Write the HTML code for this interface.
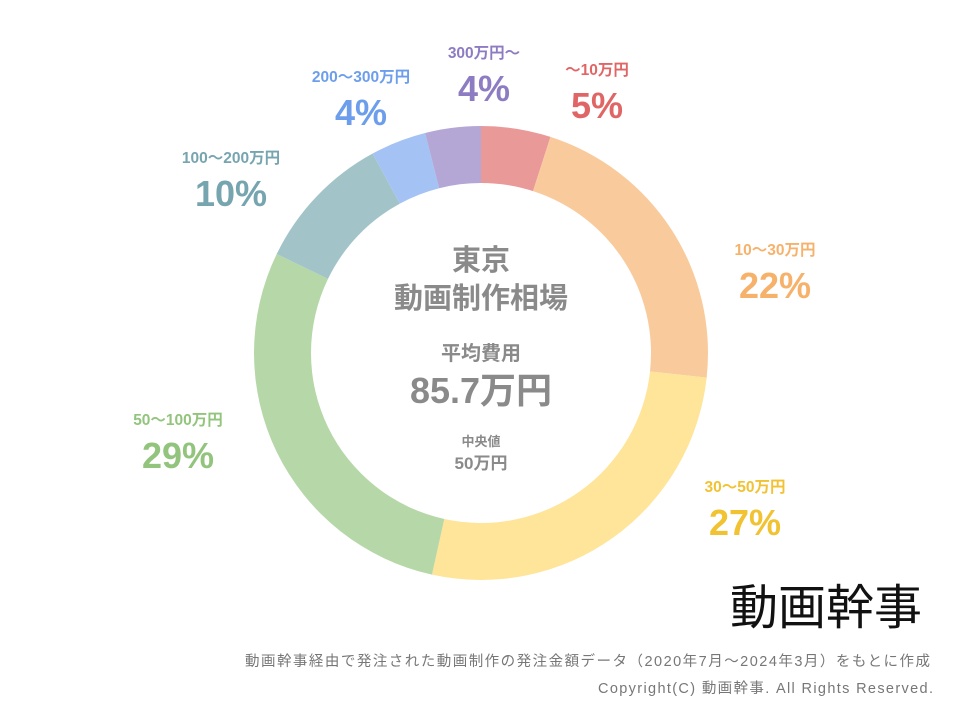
<!DOCTYPE html>
<html><head><meta charset="utf-8">
<style>
body{margin:0;background:#fff;width:960px;height:720px;overflow:hidden;font-family:"Liberation Sans","Noto Sans CJK JP",sans-serif}
svg text{font-family:"Liberation Sans","Noto Sans CJK JP",sans-serif;font-weight:bold}
</style></head><body>
<svg id="chart" width="960" height="720" viewBox="0 0 960 720" xmlns="http://www.w3.org/2000/svg">
<g id="slices"></g>
<g id="labels"></g>
<g fill="#8a8a8a" text-anchor="middle">
<text x="481" y="270" font-size="29">東京</text>
<text x="481" y="308" font-size="29">動画制作相場</text>
<text x="481" y="360" font-size="20">平均費用</text>
<text x="481" y="403" font-size="36">85.7万円</text>
<text x="481" y="446" font-size="13">中央値</text>
<text x="481" y="469" font-size="17">50万円</text>
</g>
<text x="826" y="624" font-size="48" text-anchor="middle" fill="#111" style="font-weight:normal">動画幹事</text>
<text x="245" y="666" font-size="14.5" textLength="685" fill="#777" style="font-weight:normal">動画幹事経由で発注された動画制作の発注金額データ（2020年7月～2024年3月）をもとに作成</text>
<text x="598" y="693" font-size="14.5" textLength="335" fill="#777" style="font-weight:normal">Copyright(C) 動画幹事. All Rights Reserved.</text>
</svg>
<script>
const categories=["～10万円","10～30万円","30～50万円","50～100万円","100～200万円","200～300万円","300万円～"];
const values=[5,22,27,29,10,4,4];
const sliceColors=["#ea9999","#f9cb9c","#ffe599","#b6d7a8","#a2c4c9","#a4c2f4","#b4a7d6"];
const labelColors=["#e06666","#f6b26b","#f1c232","#93c47d","#76a5af","#6d9eeb","#8e7cc3"];
const cx=481,cy=353,rOut=227,rIn=170;
const labelPos=[[597,75],[775,255],[745,492],[178,425],[231,163],[361,82],[484,58]];
const ns="http://www.w3.org/2000/svg";
const total=values.reduce((a,b)=>a+b,0);
function pt(r,a){return [cx+r*Math.sin(a),cy-r*Math.cos(a)];}
let acc=0;
const gS=document.getElementById('slices'),gL=document.getElementById('labels');
values.forEach((v,i)=>{
 const a0=acc/total*2*Math.PI;acc+=v;const a1=acc/total*2*Math.PI;
 const large=(a1-a0)>Math.PI?1:0;
 const [x0,y0]=pt(rOut,a0),[x1,y1]=pt(rOut,a1),[x2,y2]=pt(rIn,a1),[x3,y3]=pt(rIn,a0);
 const p=document.createElementNS(ns,'path');
 p.setAttribute('d',`M${x0},${y0}A${rOut},${rOut} 0 ${large} 1 ${x1},${y1}L${x2},${y2}A${rIn},${rIn} 0 ${large} 0 ${x3},${y3}Z`);
 p.setAttribute('fill',sliceColors[i]);
 
 
 gS.appendChild(p);
 const [lx,ly]=labelPos[i];
 const t1=document.createElementNS(ns,'text');
 t1.setAttribute('x',lx);t1.setAttribute('y',ly);t1.setAttribute('text-anchor','middle');
 t1.setAttribute('font-size','15.5');t1.setAttribute('fill',labelColors[i]);
 t1.textContent=categories[i];
 
 
 gL.appendChild(t1);
 const t2=document.createElementNS(ns,'text');
 t2.setAttribute('x',lx);t2.setAttribute('y',ly+43);t2.setAttribute('text-anchor','middle');
 t2.setAttribute('font-size','36');t2.setAttribute('fill',labelColors[i]);
 t2.textContent=v+'%';
 
 
 gL.appendChild(t2);
});
</script>
</body></html>
